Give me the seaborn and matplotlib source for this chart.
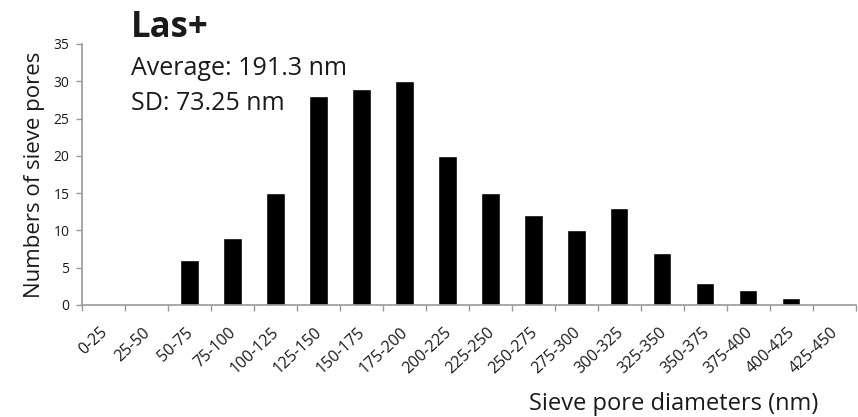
import numpy as np
import pandas as pd
import seaborn as sns
import matplotlib.pyplot as plt
import matplotlib.transforms as mtransforms

# bins and counts
bins = ['0-25', '25-50', '50-75', '75-100', '100-125', '125-150', '150-175',
        '175-200', '200-225', '225-250', '250-275', '275-300', '300-325',
        '325-350', '350-375', '375-400', '400-425', '425-450']
counts = [0, 0, 6, 9, 15, 28, 29, 30, 20, 15, 12, 10, 13, 7, 3, 2, 1, 0]

df = pd.DataFrame({'bin': bins, 'count': counts})

sns.set_style('white')
plt.rcParams['font.family'] = ['Open Sans', 'DejaVu Sans']
txt = '#1a1a1a'

fig = plt.figure(figsize=(8.58, 4.17), dpi=100)
ax = fig.add_axes([0.0956, 0.2686, 0.902, 0.626])

sns.barplot(data=df, x='bin', y='count', color='black', width=0.42,
            saturation=1, ax=ax)

ax.set_xlim(-0.5, len(bins) - 0.5)
ax.set_ylim(0, 35)
ax.set_yticks(range(0, 36, 5))

# excel style: ticks between categories, labels centred
ax.set_xticks(np.arange(-0.5, len(bins), 1), minor=True)
ax.tick_params(axis='x', which='major', length=0, pad=14)
ax.tick_params(axis='x', which='minor', length=4, color='#999999', width=1,
               direction='out', bottom=True)
ax.tick_params(axis='y', length=4, color='#999999', width=1, direction='out',
               left=True, labelsize=10, pad=5, labelcolor=txt)
shift = mtransforms.ScaledTranslation(-4 / 100, 0, fig.dpi_scale_trans)
for lab in ax.get_xticklabels():
    lab.set_rotation(43)
    lab.set_ha('right')
    lab.set_va('top')
    lab.set_rotation_mode('anchor')
    lab.set_fontsize(11.5)
    lab.set_color(txt)
    lab.set_transform(lab.get_transform() + shift)

for s in ['top', 'right']:
    ax.spines[s].set_visible(False)
for s in ['left', 'bottom']:
    ax.spines[s].set_color('#999999')
    ax.spines[s].set_linewidth(1.2)

ax.set_ylabel('Numbers of sieve pores', fontsize=16, color=txt, labelpad=6)
ax.set_xlabel('Sieve pore diameters (nm)', fontsize=17, color=txt)
ax.xaxis.label.set_ha('right')
ax.xaxis.label.set_va('baseline')
ax.xaxis.set_label_coords(0.951, -0.402)

fig.text(0.153, 0.911, 'Las+', fontsize=25, fontweight='bold', color=txt, va='baseline')
fig.text(0.153, 0.820, 'Average: 191.3 nm', fontsize=18, color=txt, va='baseline')
fig.text(0.153, 0.736, 'SD: 73.25 nm', fontsize=18, color=txt, va='baseline')

fig.savefig('out.png', dpi=100, facecolor='white')
